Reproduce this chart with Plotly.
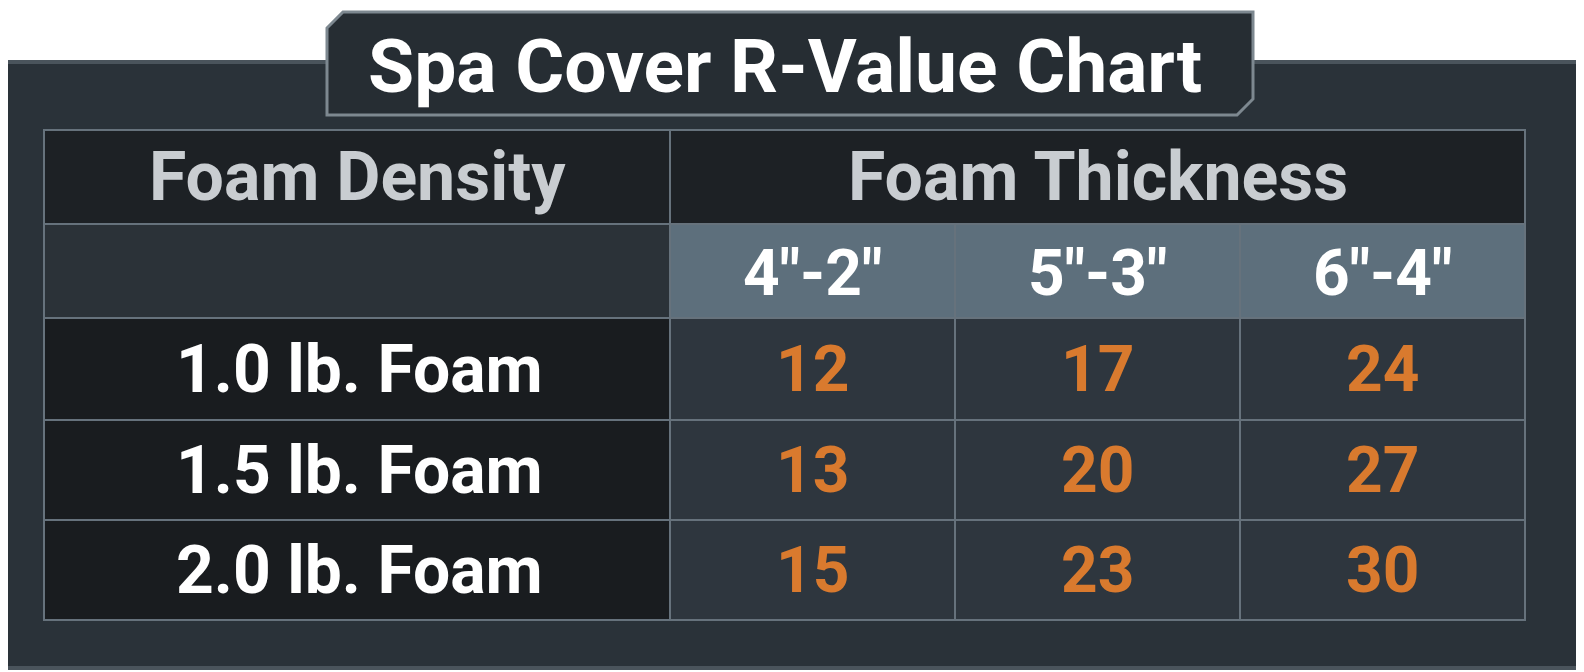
import plotly.graph_objects as go

title = "Spa Cover R-Value Chart"
row_header = "Foam Density"
col_header = "Foam Thickness"
thickness = ['4"-2"', '5"-3"', '6"-4"']
densities = ["1.0 lb. Foam", "1.5 lb. Foam", "2.0 lb. Foam"]
r_values = [[12, 17, 24], [13, 20, 27], [15, 23, 30]]

W, H = 1584, 672
OFF = 8  # compensate page body margin
xs = [44, 670, 955, 1240, 1525]
ys = [130, 224, 318, 420, 520, 620]
FONT = "Roboto"
border = "#66727c"

fig = go.Figure()
shapes = []
ann = []

def rect(x0, y0, x1, y1, fill, line=border, w=2):
    shapes.append(dict(type="rect", x0=x0, y0=y0, x1=x1, y1=y1, fillcolor=fill,
                       line=dict(color=line, width=w), layer="below"))

rect(-10, 62, W + 10, 668, "#2a3239", "#4a545c", 4)
rect(xs[0], ys[0], xs[1], ys[1], "#1d2125")
rect(xs[1], ys[0], xs[4], ys[1], "#1d2125")
rect(xs[0], ys[1], xs[1], ys[2], "#2b3238")
for j in range(3):
    rect(xs[j+1], ys[1], xs[j+2], ys[2], "#5d6f7c")
for i in range(3):
    rect(xs[0], ys[i+2], xs[1], ys[i+3], "#191c1f")
    for j in range(3):
        rect(xs[j+1], ys[i+2], xs[j+2], ys[i+3], "#2e363e")
shapes.append(dict(type="path", path="M 327 28 L 343 12 L 1253 12 L 1253 99 L 1237 115 L 327 115 Z",
                   fillcolor="#262d33", line=dict(color="#7d8890", width=3)))

def text(x, y, s, size, color):
    ann.append(dict(x=x, y=y, text=s, showarrow=False, xref="x", yref="y",
                    font=dict(family=FONT, size=size, color=color, weight="bold"),
                    xanchor="center", yanchor="middle"))

text(785, 66, title, 75, "white")
text((xs[0]+xs[1])/2, (ys[0]+ys[1])/2, row_header, 68, "#c9cdd1")
text((xs[1]+xs[4])/2, (ys[0]+ys[1])/2, col_header, 68, "#c9cdd1")
for j, t in enumerate(thickness):
    text((xs[j+1]+xs[j+2])/2, (ys[1]+ys[2])/2 + 2, t, 64, "white")
for i, d in enumerate(densities):
    yc = (ys[i+2]+ys[i+3])/2
    text((xs[0]+xs[1])/2 + 2, yc, d, 66, "white")
    for j in range(3):
        text((xs[j+1]+xs[j+2])/2, yc, str(r_values[i][j]), 64, "#d97a2e")

fig.update_layout(width=W, height=H, margin=dict(l=0, r=0, t=0, b=0),
                  paper_bgcolor="white", plot_bgcolor="white",
                  xaxis=dict(range=[OFF, W + OFF], visible=False, fixedrange=True),
                  yaxis=dict(range=[H + OFF, OFF], visible=False, fixedrange=True),
                  shapes=shapes, annotations=ann, showlegend=False)
fig.write_html("out.html")
